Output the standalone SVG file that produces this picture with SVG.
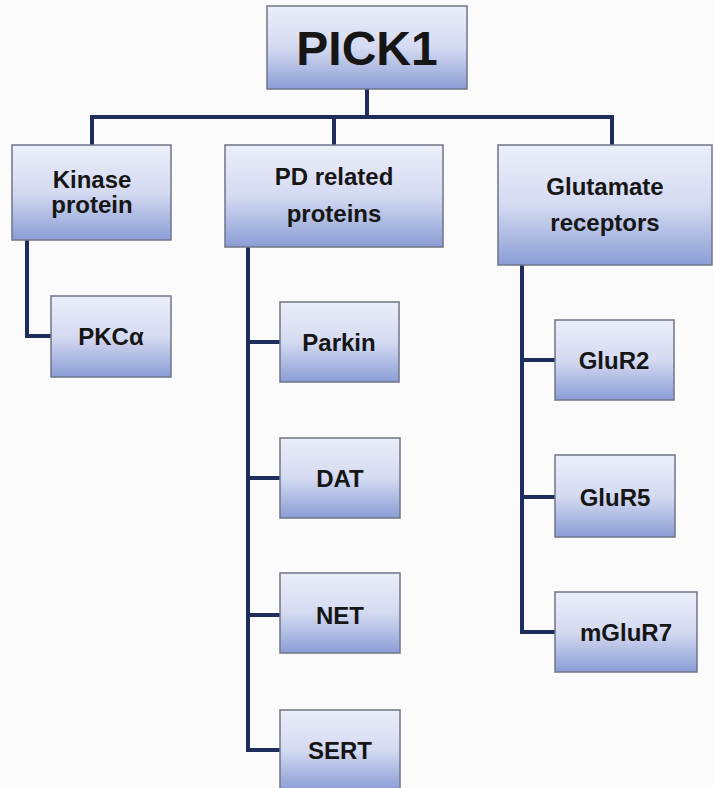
<svg xmlns="http://www.w3.org/2000/svg" width="713" height="788" viewBox="0 0 713 788">
<defs>
<linearGradient id="g" x1="0" y1="0" x2="0" y2="1">
<stop offset="0" stop-color="#eceef9"/>
<stop offset="0.5" stop-color="#d4daf1"/>
<stop offset="1" stop-color="#8a9dd5"/>
</linearGradient>
</defs>
<style>
rect.b{fill:url(#g);stroke:#6f7488;stroke-width:1.5}
text{font-family:"Liberation Sans",Arial,sans-serif;font-weight:bold;fill:#161616;text-anchor:middle;font-size:24px}
.c{fill:none;stroke:#1f2d5c;stroke-width:4;stroke-linejoin:miter}
</style>
<rect width="713" height="788" fill="#fbfbfb"/>
<g id="connectors">
<path class="c" d="M367 89V117M92 145V117H612V145M334 117V145"/>
<path class="c" d="M27 240V336H52"/>
<path class="c" d="M248 247V750H281M248 342H281M248 478H281M248 615H281"/>
<path class="c" d="M522 265V632H556M522 360H556M522 497H556"/>
</g>
<g id="pick1"><rect class="b" x="267" y="6" width="200" height="83"/><text x="367" y="65" style="font-size:48px">PICK1</text></g>
<g id="kinase"><rect class="b" x="12" y="145" width="159" height="95"/><text x="92" y="188">Kinase</text><text x="92" y="213">protein</text></g>
<g id="pd"><rect class="b" x="225" y="145" width="218" height="102"/><text x="334" y="185">PD related</text><text x="334" y="222">proteins</text></g>
<g id="glu"><rect class="b" x="498" y="145" width="214" height="120"/><text x="605" y="195">Glutamate</text><text x="605" y="231">receptors</text></g>
<g id="pkc"><rect class="b" x="51" y="296" width="120" height="81"/><text x="111" y="345">PKCα</text></g>
<g id="parkin"><rect class="b" x="280" y="302" width="119" height="80"/><text x="339" y="351">Parkin</text></g>
<g id="dat"><rect class="b" x="280" y="438" width="120" height="80"/><text x="340" y="487">DAT</text></g>
<g id="net"><rect class="b" x="280" y="573" width="120" height="80"/><text x="340" y="624">NET</text></g>
<g id="sert"><rect class="b" x="280" y="710" width="120" height="80"/><text x="340" y="759">SERT</text></g>
<g id="glur2"><rect class="b" x="555" y="320" width="119" height="80"/><text x="614" y="369">GluR2</text></g>
<g id="glur5"><rect class="b" x="555" y="455" width="120" height="82"/><text x="615" y="506">GluR5</text></g>
<g id="mglur7"><rect class="b" x="555" y="592" width="142" height="80"/><text x="626" y="641">mGluR7</text></g>
</svg>
